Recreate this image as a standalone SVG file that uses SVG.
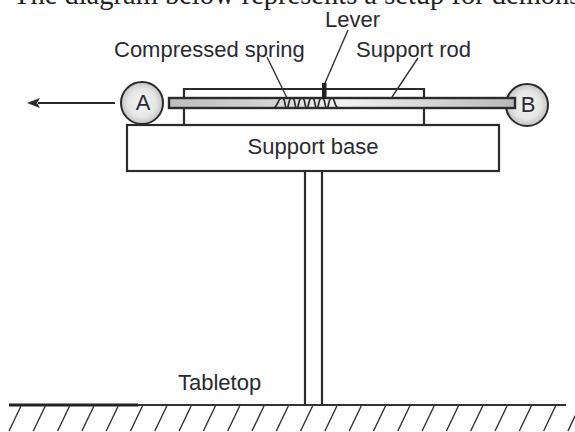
<svg xmlns="http://www.w3.org/2000/svg" width="575" height="432" viewBox="0 0 575 432">
<style>
text{font-family:"Liberation Sans",Arial,sans-serif;font-size:22px;fill:#2a2a30}
.l{fill:none;stroke:#2b2b2b;stroke-width:2.2}
.t{fill:none;stroke:#333;stroke-width:1.4}
</style>
<defs>
<radialGradient id="ball" cx="50%" cy="50%" r="55%"><stop offset="0" stop-color="#f4f4f4"/><stop offset="0.6" stop-color="#e6e6e6"/><stop offset="1" stop-color="#b9b9b9"/></radialGradient>
<linearGradient id="rod" x1="0" x2="1" y1="0" y2="0"><stop offset="0" stop-color="#bdbdbd"/><stop offset="0.3" stop-color="#d4d4d4"/><stop offset="0.5" stop-color="#f2f2f2"/><stop offset="1" stop-color="#b8b8b8"/></linearGradient>
</defs>
<rect width="575" height="432" fill="#fff"/>
<g id="header"><text x="13" y="4" style="font-family:'Liberation Serif',serif;font-size:28.500px;fill:#222">The diagram below represents a setup for demonst</text></g>
<g id="ground"><path d="M9 405H566" fill="none" stroke="#333" stroke-width="2.2"/><path d="M9 405H138" fill="none" stroke="#222" stroke-width="2.8"/><path id="hatch" class="t" d="M21 406L9 431M45.300 406L33.300 431M69.600 406L57.600 431M93.900 406L81.900 431M118.200 406L106.200 431M142.500 406L130.500 431M166.800 406L154.800 431M191.100 406L179.100 431M215.400 406L203.400 431M239.700 406L227.700 431M264 406L252 431M288.300 406L276.300 431M312.600 406L300.600 431M336.900 406L324.900 431M361.200 406L349.200 431M385.500 406L373.500 431M409.800 406L397.800 431M434.100 406L422.100 431M458.400 406L446.400 431M482.700 406L470.700 431M507 406L495 431M531.300 406L519.300 431M555.600 406L543.600 431M579.900 406L567.900 431"/></g>
<g id="post"><path class="l" d="M305 171V405M322 171V405"/></g>
<g id="support-base"><rect class="l" x="127" y="125" width="372" height="46" fill="#fff"/><text x="313" y="154" text-anchor="middle">Support base</text></g>
<g id="housing"><path class="l" d="M184 125V89H424V125"/></g>
<g id="ball-a"><circle cx="142" cy="103" r="21" fill="url(#ball)" stroke="#2b2b2b" stroke-width="2"/><text x="143" y="110" text-anchor="middle">A</text></g>
<g id="ball-b"><circle cx="527" cy="105" r="21" fill="url(#ball)" stroke="#2b2b2b" stroke-width="2"/><text x="528" y="112" text-anchor="middle">B</text></g>
<g id="rod"><rect x="169" y="98" width="346" height="10" fill="url(#rod)" stroke="#2b2b2b" stroke-width="2.4"/></g>
<g id="spring"><path fill="none" stroke="#2a2a2a" stroke-width="1.7" d="M274 108C278 106 278 98 282 98C286 98 284 108 287 108C289 108 288 98 292 98C296 98 294 108 297 108C299 108 298 98 302 98C306 98 304 108 307 108C309 108 308 98 312 98C316 98 314 108 317 108C319 108 318 98 322 98C326 98 324 108 327 108C329 108 328 98 332 98C335 98 334 106 338 108"/></g>
<g id="lever"><rect x="322" y="83" width="4.500" height="16" fill="#222"/></g>
<g id="connectors">
<path class="t" d="M267 57L287 98M348 30L325 83M418 58L392 97"/>
<path class="l" d="M115 103H38"/>
<path fill="#2b2b2b" d="M27 103L40 98L37 103L40 108Z"/>
</g>
<g id="labels">
<text x="114" y="57">Compressed spring</text>
<text x="325" y="27">Lever</text>
<text x="356" y="57">Support rod</text>
<text x="178" y="390">Tabletop</text>
</g>
</svg>
